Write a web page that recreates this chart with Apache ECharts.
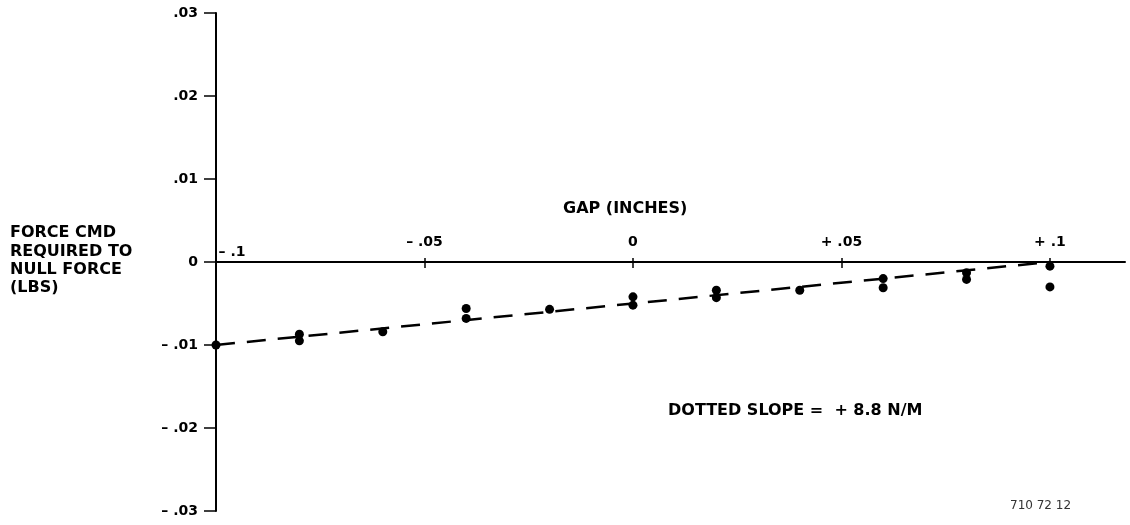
<!DOCTYPE html>
<html>
<head>
<meta charset="utf-8">
<script src="https://cdn.jsdelivr.net/npm/echarts@6/dist/echarts.min.js"></script>
<style>
  html, body { margin: 0; padding: 0; background: #fff; }
  #chart { width: 1130px; height: 525px; }
</style>
</head>
<body>
<div id="chart"></div>
<script>
// Measured gap (inches) and required force command (lbs)
const gapPoints   = [-0.10, -0.08, -0.08, -0.06, -0.04, -0.04, -0.02, 0.00, 0.00, 0.02, 0.02, 0.04, 0.06, 0.06, 0.08, 0.08, 0.10, 0.10];
const forcePoints = [-0.0100, -0.0087, -0.0095, -0.0084, -0.0056, -0.0068, -0.0057, -0.0042, -0.0052, -0.0034, -0.0043, -0.0034, -0.0020, -0.0031, -0.0013, -0.0021, -0.0005, -0.0030];

// Dotted slope line end points
const fitGap   = [-0.10, 0.10];
const fitForce = [-0.010, 0.000];

// Tick values and their printed labels
const gapTicks        = [-0.10, -0.05, 0.00, 0.05, 0.10];
const gapTickLabels   = ['\u2013 .1', '\u2013 .05', '0', '+ .05', '+ .1'];
const forceTicks      = [-0.03, -0.02, -0.01, 0.00, 0.01, 0.02, 0.03];
const forceTickLabels = ['\u2013 .03', '\u2013 .02', '\u2013 .01', '0', '.01', '.02', '.03'];

const GAP_MIN = -0.1, GAP_MAX = 0.118;
const FONT = '"DejaVu Sans", "Liberation Sans", sans-serif';

const chart = echarts.init(document.getElementById('chart'), null, { renderer: 'canvas' });

function gapLabel(v) {
  const i = gapTicks.findIndex(t => Math.abs(t - v) < 1e-9);
  if (i < 0) return '';
  return i === 0 ? '{lo|' + gapTickLabels[i] + '}' : '{hi|' + gapTickLabels[i] + '}';
}
function forceLabel(v) {
  const i = forceTicks.findIndex(t => Math.abs(t - v) < 1e-9);
  return i < 0 ? '' : forceTickLabels[i];
}

const hiddenY = (gridIndex) => ({
  type: 'value', gridIndex, min: 0, max: 1, show: false
});

chart.setOption({
  animation: false,
  backgroundColor: '#fff',
  grid: [
    // plotting area
    { left: 216, top: 13, width: 909, height: 498 },
    // lower half: its top edge is the zero line, carries the gap axis and labels
    { left: 216, top: 262, width: 909, height: 249 },
    // upper half: its bottom edge is the zero line, carries the downward ticks
    { left: 216, top: 13, width: 909, height: 249 }
  ],
  xAxis: [
    {
      type: 'value', gridIndex: 0, min: GAP_MIN, max: GAP_MAX, show: false
    },
    {
      type: 'value', gridIndex: 1, position: 'top',
      min: GAP_MIN, max: GAP_MAX,
      axisLine: { onZero: false, lineStyle: { color: '#000', width: 2 } },
      axisTick: { show: true, inside: false, length: 4, customValues: gapTicks, lineStyle: { color: '#000', width: 1.5 } },
      axisLabel: {
        margin: 3, customValues: gapTicks,
        formatter: gapLabel,
        color: '#000', fontFamily: FONT, fontWeight: 'bold', fontSize: 14,
        rich: {
          hi: { fontFamily: FONT, fontWeight: 'bold', fontSize: 14, color: '#000', padding: [0, 0, 10, 0] },
          lo: { fontFamily: FONT, fontWeight: 'bold', fontSize: 14, color: '#000', padding: [0, 0, 0, 32] }
        }
      },
      splitLine: { show: false }
    },
    {
      type: 'value', gridIndex: 2, position: 'bottom',
      min: GAP_MIN, max: GAP_MAX,
      axisLine: { show: false, onZero: false },
      axisTick: { show: true, inside: false, length: 6, customValues: gapTicks, lineStyle: { color: '#000', width: 1.5 } },
      axisLabel: { show: false },
      splitLine: { show: false }
    }
  ],
  yAxis: [
    {
      type: 'value', gridIndex: 0,
      min: -0.03, max: 0.03, interval: 0.01,
      axisLine: { onZero: false, lineStyle: { color: '#000', width: 2 } },
      axisTick: { show: true, inside: false, length: 12, lineStyle: { color: '#000', width: 1.5 } },
      axisLabel: {
        margin: 18, formatter: forceLabel,
        color: '#000', fontFamily: FONT, fontWeight: 'bold', fontSize: 14
      },
      splitLine: { show: false }
    },
    hiddenY(1),
    hiddenY(2)
  ],
  series: [
    {
      type: 'line',
      xAxisIndex: 0, yAxisIndex: 0,
      data: fitGap.map((g, i) => [g, fitForce[i]]),
      symbol: 'none',
      lineStyle: { color: '#000', width: 2.5, type: [19, 12] },
      z: 2
    },
    {
      type: 'scatter',
      xAxisIndex: 0, yAxisIndex: 0,
      data: gapPoints.map((g, i) => [g, forcePoints[i]]),
      symbol: 'circle',
      symbolSize: 9,
      itemStyle: { color: '#000', opacity: 1 },
      z: 3
    }
  ],
  graphic: [
    {
      type: 'text', left: 563, top: 201,
      style: { text: 'GAP (INCHES)', font: 'bold 16px ' + FONT, fill: '#000' }
    },
    {
      type: 'text', left: 10, top: 224,
      style: {
        text: 'FORCE CMD\nREQUIRED TO\nNULL FORCE\n(LBS)',
        font: 'bold 16px ' + FONT, lineHeight: 18.3, fill: '#000'
      }
    },
    {
      type: 'text', left: 668, top: 403,
      style: { text: 'DOTTED SLOPE =  + 8.8 N/M', font: 'bold 16px ' + FONT, fill: '#000' }
    },
    {
      type: 'text', left: 1010, top: 500,
      style: { text: '710 72 12', font: '12px ' + FONT, fill: '#333' }
    }
  ]
});
</script>
</body>
</html>
